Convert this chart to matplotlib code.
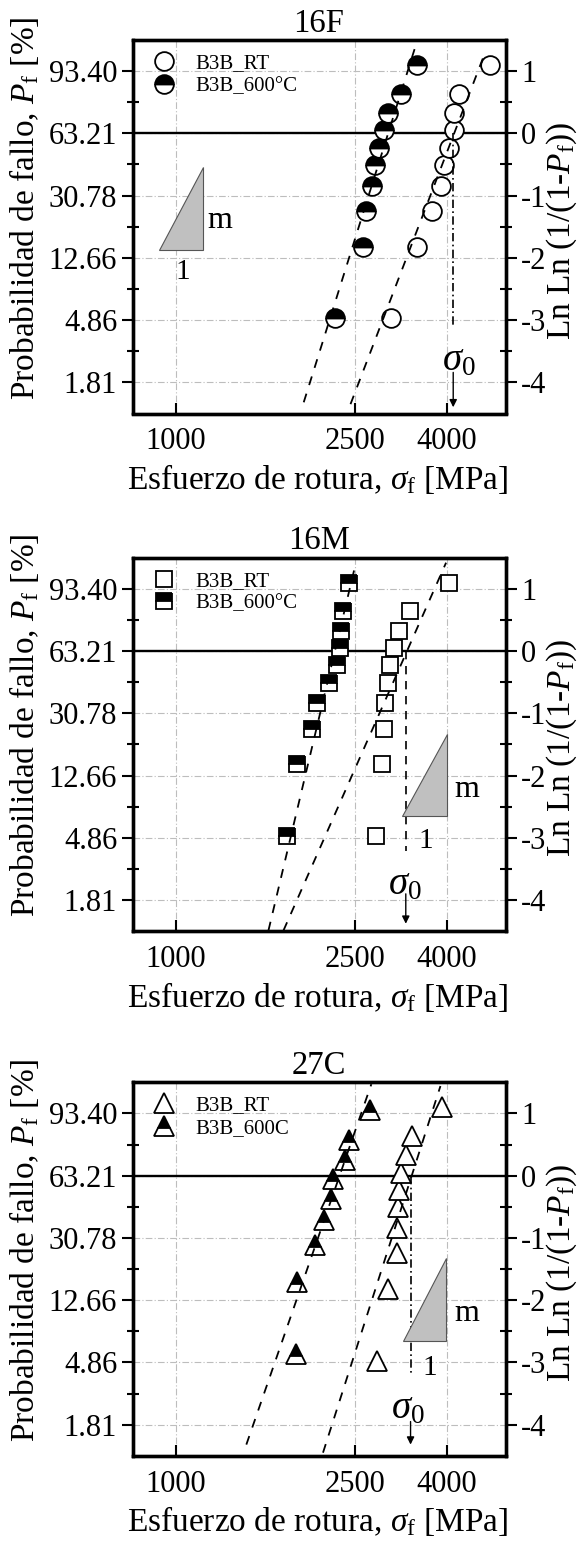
import numpy as np
import matplotlib
matplotlib.use('Agg')
import matplotlib.pyplot as plt
from matplotlib.patches import Polygon
from matplotlib.ticker import FixedLocator, NullLocator, NullFormatter

plt.rcParams['font.family'] = ['Liberation Serif', 'DejaVu Serif']
plt.rcParams['mathtext.fontset'] = 'custom'
plt.rcParams['mathtext.rm'] = 'Liberation Serif'
plt.rcParams['mathtext.it'] = 'Liberation Serif:italic'
plt.rcParams['axes.unicode_minus'] = False

# ---------------- data ----------------
titles = ['16F', '16M', '27C']
y_ticks = [1, 0, -1, -2, -3, -4]
pf_labels = ['93.40', '63.21', '30.78', '12.66', '4.86', '1.81']
lnln_labels = ['1', '0', '-1', '-2', '-3', '-4']
x_ticks = [1000, 2500, 4000]
x_tick_labels = ['1000', '2500', '4000']

# ln ln(1/(1-Pf)) of each point
y_n10 = [-2.97, -1.82, -1.25, -0.84, -0.51, -0.23, 0.05, 0.33, 0.64, 1.10]
y_n9 = [-2.86, -1.70, -1.12, -0.71, -0.37, -0.06, 0.25, 0.58, 1.06]

# fracture stress [MPa]
rt_16F = [3004, 3438, 3701, 3881, 3947, 4043, 4148, 4155, 4262, 4997]
ht_16F = [2257, 2609, 2641, 2731, 2769, 2830, 2899, 2963, 3157, 3427]
rt_16M = [2779, 2866, 2904, 2914, 2955, 2990, 3052, 3131, 3313, 4039]
ht_16M = [1762, 1854, 2008, 2054, 2191, 2282, 2314, 2322, 2353, 2423]
rt_27C = [2793, 2963, 3090, 3100, 3115, 3125, 3160, 3241, 3342, 3903]
ht_27C = [1847, 1854, 2036, 2132, 2206, 2229, 2374, 2426, 2699]

rt_sets = [rt_16F, rt_16M, rt_27C]
ht_sets = [ht_16F, ht_16M, ht_27C]
rt_y = [y_n10, y_n10, y_n10]
ht_y = [y_n10, y_n10, y_n9]

# Weibull fits: modulus m, characteristic strength sigma0 [MPa], y-extent
rt_m = [8.2, 7.1, 9.8]
rt_s0 = [4150, 3260, 3340]
rt_yr = [(-4.35, 1.33), (-4.49, 1.42), (-4.45, 1.44)]
ht_m = [10.0, 13.2, 9.05]
ht_s0 = [2960, 2254, 2309]
ht_yr = [(-4.32, 1.47), (-4.49, 1.43), (-4.32, 1.47)]

# sigma0 marker position
s0_mark = [4130, 3240, 3320]

rt_labels = ['B3B_RT', 'B3B_RT', 'B3B_RT']
ht_labels = ['B3B_600°C', 'B3B_600°C', 'B3B_600C']
markers = ['o', 's', '^']
msizes = [13.5, 11.5, 15]

# ---------------- layout/annotation ----------------
W, H = 585, 1542
ax_left, ax_w = 132.5, 373.1
ax_tops = [40, 557.7, 1082.3]
ax_h = 373.5

tri = [((0.070, 0.190), (0.439, 0.660)),
       ((0.722, 0.843), (0.309, 0.529)),
       ((0.724, 0.840), (0.308, 0.530))]
m_pos = [(0.235, 0.517), (0.895, 0.379), (0.895, 0.381)]
one_pos = [(0.135, 0.379), (0.785, 0.241), (0.797, 0.234)]
s0_text = [(0.875, 0.142), (0.730, 0.125), (0.738, 0.125)]
s0_line_bottom = [-3.09, -3.21, -3.20]
s0_ls = [(0, (5, 2, 1, 2)), (0, (5, 4)), (0, (5, 2, 1, 2))]
arrow_y = [(-3.84, -4.40), (-3.90, -4.38), (-3.95, -4.32)]

fig = plt.figure(figsize=(W / 100, H / 100), dpi=100)

for i in range(3):
    bottom = 1 - (ax_tops[i] + ax_h) / H
    ax = fig.add_axes([ax_left / W, bottom, ax_w / W, ax_h / H])
    ax.set_xscale('log')
    ax.set_xlim(800, 5400)
    ax.set_ylim(-4.5, 1.5)
    ax.set_axisbelow(True)

    ax.grid(True, which='major', ls=(0, (6, 2, 1, 2)), color='#bdbdbd', lw=0.8)
    ax.axhline(0, color='black', lw=1.7, zorder=2)

    mk = markers[i]
    ms = msizes[i]
    ax.plot(rt_sets[i], rt_y[i], ls='none', marker=mk, ms=ms, mfc='white',
            mec='black', mew=1.3, zorder=3, label=rt_labels[i])
    ax.plot(ht_sets[i], ht_y[i], ls='none', marker=mk, ms=ms, fillstyle='top',
            mfc='black', markerfacecoloralt='white', mec='black', mew=1.3,
            zorder=3, label=ht_labels[i])

    for m, s0, yr in ((rt_m[i], rt_s0[i], rt_yr[i]), (ht_m[i], ht_s0[i], ht_yr[i])):
        yy = np.array(yr)
        xx = s0 * np.exp(yy / m)
        ax.plot(xx, yy, color='black', lw=1.3, ls=(0, (5, 5)), zorder=4)

    # sigma0 marker
    ax.plot([s0_mark[i], s0_mark[i]], [0, s0_line_bottom[i]], color='black',
            lw=1.2, ls=s0_ls[i], zorder=4)
    ax.annotate('', xy=(s0_mark[i], arrow_y[i][1]), xytext=(s0_mark[i], arrow_y[i][0]),
                arrowprops=dict(arrowstyle='-|>', color='black', lw=1.0,
                                mutation_scale=11, shrinkA=0, shrinkB=0), zorder=4)
    ax.text(s0_text[i][0], s0_text[i][1], r'$\sigma_0$', transform=ax.transAxes,
            fontsize=28, ha='center', va='center', zorder=6)

    # slope triangle
    (tx0, tx1), (ty0, ty1) = tri[i]
    ax.add_patch(Polygon([(tx0, ty0), (tx1, ty0), (tx1, ty1)], closed=True,
                         transform=ax.transAxes, facecolor='#c0c0c0',
                         edgecolor='#555555', lw=0.8, zorder=5))
    ax.text(m_pos[i][0], m_pos[i][1], 'm', transform=ax.transAxes,
            fontsize=23, ha='center', va='center', zorder=6)
    ax.text(one_pos[i][0], one_pos[i][1], '1', transform=ax.transAxes,
            fontsize=21, ha='center', va='center', zorder=6)

    # ticks
    ax.xaxis.set_major_locator(FixedLocator(x_ticks))
    ax.set_xticklabels(x_tick_labels)
    ax.xaxis.set_minor_locator(NullLocator())
    ax.xaxis.set_minor_formatter(NullFormatter())
    ax.set_yticks(y_ticks)
    ax.set_yticklabels(pf_labels)
    ax.yaxis.set_minor_locator(FixedLocator([-3.5, -2.5, -1.5, -0.5, 0.5]))
    ax.tick_params(axis='x', which='major', direction='in', length=8, width=1.5,
                   labelsize=22, pad=10, top=False)
    ax.tick_params(axis='y', which='major', direction='out', length=8, width=1.5,
                   labelsize=22, pad=3)
    ax.tick_params(axis='y', which='minor', direction='inout', length=8, width=1.5)
    for sp in ax.spines.values():
        sp.set_linewidth(2.4)

    ax.set_title(titles[i], fontsize=23.5, pad=6)
    ax.set_xlabel(r'Esfuerzo de rotura, $\sigma_\mathrm{f}$ [MPa]', fontsize=24)
    ax.xaxis.set_label_coords(0.497, -0.175)
    ax.xaxis.label.set_va('center')
    ax.set_ylabel(r'Probabilidad de fallo, $P_\mathrm{f}$ [%]', fontsize=24)
    ax.yaxis.set_label_coords(-0.29, 0.55)
    ax.yaxis.label.set_va('center')

    ax2 = ax.twinx()
    ax2.set_ylim(-4.5, 1.5)
    ax2.set_yticks(y_ticks)
    ax2.set_yticklabels(lnln_labels)
    ax2.yaxis.set_minor_locator(FixedLocator([-3.5, -2.5, -1.5, -0.5, 0.5]))
    ax2.tick_params(axis='y', which='major', direction='out', length=8, width=1.5,
                    labelsize=22, pad=3)
    ax2.tick_params(axis='y', which='minor', direction='inout', length=8, width=1.5)
    for sp in ax2.spines.values():
        sp.set_linewidth(2.4)
    ax2.set_ylabel(r'Ln Ln (1/(1-$P_\mathrm{f}$))', fontsize=24)
    ax2.yaxis.set_label_coords(1.151, 0.49)
    ax2.yaxis.label.set_va('center')

    leg = ax.legend(loc='upper left', bbox_to_anchor=(0.02, 1.0), frameon=False,
                    fontsize=15, handlelength=1.0, handletextpad=1.0,
                    labelspacing=0.15, borderaxespad=0.35, borderpad=0.3)
    leg.set_zorder(7)

fig.savefig('out.png', dpi=100)
